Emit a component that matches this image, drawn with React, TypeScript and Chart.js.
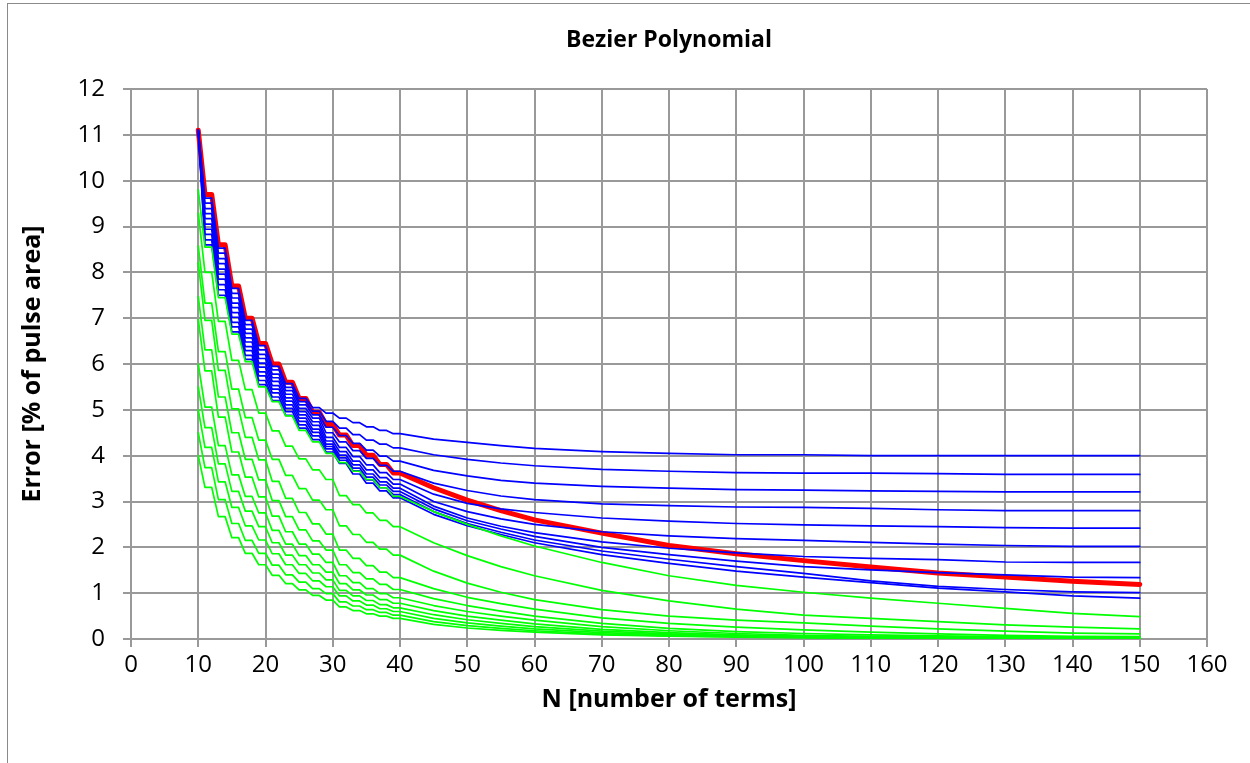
import React, { useEffect, useRef } from 'react';
import { Chart, registerables } from 'chart.js';

Chart.register(...registerables);

const FONT = '"Open Sans", "Noto Sans", sans-serif';

const TITLE = 'Bezier Polynomial';
const X_TITLE = 'N [number of terms]';
const Y_TITLE = 'Error [% of pulse area]';

// N values (number of terms) shared by all series
const N = [10, 11, 12, 13, 14, 15, 16, 17, 18, 19, 20, 21, 22, 23, 24, 25, 26, 27, 28, 29, 30,
  31, 32, 33, 34, 35, 36, 37, 38, 39, 40, 45, 50, 55, 60, 70, 80, 90, 100, 110, 120, 130, 140, 150];

const RED = [11.1, 9.7, 9.7, 8.6, 8.6, 7.7, 7.7, 7.0, 7.0, 6.45, 6.45, 6.0, 6.0, 5.6, 5.6, 5.25, 5.25, 4.95, 4.95, 4.68, 4.68,
  4.45, 4.45, 4.22, 4.22, 4.01, 4.01, 3.81, 3.81, 3.62, 3.62,
  3.3, 3.03, 2.8, 2.6, 2.31, 2.04, 1.86, 1.71, 1.57, 1.44, 1.35, 1.26, 1.19];

const BLUE_1 = [11.1, 9.62, 9.62, 8.53, 8.53, 7.65, 7.65, 6.95, 6.95, 6.4, 6.4, 5.95, 5.95, 5.57, 5.57, 5.25, 5.25, 5.05, 5.05, 4.93, 4.93,
  4.82, 4.82, 4.72, 4.72, 4.63, 4.63, 4.55, 4.55, 4.48, 4.48,
  4.36, 4.29, 4.22, 4.16, 4.09, 4.05, 4.02, 4.02, 4.0, 4.0, 4.0, 4.0, 4.0];
const BLUE_2 = [11.1, 9.51, 9.51, 8.42, 8.42, 7.54, 7.54, 6.86, 6.86, 6.31, 6.31, 5.87, 5.87, 5.49, 5.49, 5.18, 5.18, 4.97, 4.97, 4.75, 4.75,
  4.6, 4.6, 4.46, 4.46, 4.34, 4.34, 4.25, 4.25, 4.17, 4.17,
  4.02, 3.92, 3.84, 3.78, 3.7, 3.66, 3.63, 3.62, 3.62, 3.61, 3.59, 3.59, 3.59];
const BLUE_3 = [11.1, 9.39, 9.39, 8.3, 8.3, 7.44, 7.44, 6.76, 6.76, 6.21, 6.21, 5.78, 5.78, 5.42, 5.42, 5.11, 5.11, 4.89, 4.89, 4.62, 4.62,
  4.44, 4.44, 4.27, 4.27, 4.12, 4.12, 3.99, 3.99, 3.88, 3.88,
  3.68, 3.56, 3.46, 3.4, 3.33, 3.29, 3.26, 3.25, 3.23, 3.22, 3.21, 3.21, 3.21];
const BLUE_4 = [11.1, 9.28, 9.28, 8.19, 8.19, 7.33, 7.33, 6.67, 6.67, 6.12, 6.12, 5.7, 5.7, 5.34, 5.34, 5.03, 5.03, 4.82, 4.82, 4.5, 4.5,
  4.3, 4.3, 4.11, 4.11, 3.94, 3.94, 3.79, 3.79, 3.66, 3.66,
  3.4, 3.24, 3.12, 3.04, 2.95, 2.91, 2.88, 2.87, 2.85, 2.82, 2.8, 2.8, 2.8];
const BLUE_5 = [11.1, 9.17, 9.17, 8.07, 8.07, 7.23, 7.23, 6.57, 6.57, 6.02, 6.02, 5.62, 5.62, 5.26, 5.26, 4.96, 4.96, 4.74, 4.74, 4.4, 4.4,
  4.18, 4.18, 3.98, 3.98, 3.8, 3.8, 3.63, 3.63, 3.48, 3.48,
  3.16, 2.96, 2.84, 2.76, 2.64, 2.57, 2.52, 2.49, 2.47, 2.45, 2.43, 2.42, 2.42];
const BLUE_6 = [11.1, 9.05, 9.05, 7.96, 7.96, 7.12, 7.12, 6.48, 6.48, 5.93, 5.93, 5.53, 5.53, 5.19, 5.19, 4.89, 4.89, 4.66, 4.66, 4.32, 4.32,
  4.09, 4.09, 3.88, 3.88, 3.69, 3.69, 3.52, 3.52, 3.38, 3.38,
  3.0, 2.78, 2.62, 2.5, 2.34, 2.25, 2.19, 2.15, 2.11, 2.07, 2.04, 2.02, 2.02];
const BLUE_7 = [11.1, 8.94, 8.94, 7.85, 7.85, 7.02, 7.02, 6.38, 6.38, 5.83, 5.83, 5.45, 5.45, 5.11, 5.11, 4.82, 4.82, 4.58, 4.58, 4.25, 4.25,
  4.01, 4.01, 3.8, 3.8, 3.6, 3.6, 3.43, 3.43, 3.29, 3.29,
  2.9, 2.64, 2.46, 2.32, 2.12, 1.98, 1.88, 1.8, 1.76, 1.73, 1.68, 1.67, 1.67];
const BLUE_8 = [11.1, 8.83, 8.83, 7.73, 7.73, 6.91, 6.91, 6.29, 6.29, 5.74, 5.74, 5.37, 5.37, 5.03, 5.03, 4.75, 4.75, 4.51, 4.51, 4.2, 4.2,
  3.95, 3.95, 3.73, 3.73, 3.53, 3.53, 3.36, 3.36, 3.22, 3.22,
  2.84, 2.58, 2.4, 2.24, 2.0, 1.84, 1.7, 1.58, 1.51, 1.45, 1.4, 1.35, 1.34];
const BLUE_9 = [11.1, 8.71, 8.71, 7.62, 7.62, 6.81, 6.81, 6.19, 6.19, 5.64, 5.64, 5.28, 5.28, 4.96, 4.96, 4.67, 4.67, 4.43, 4.43, 4.15, 4.15,
  3.9, 3.9, 3.67, 3.67, 3.47, 3.47, 3.3, 3.3, 3.15, 3.15,
  2.78, 2.52, 2.33, 2.16, 1.92, 1.74, 1.58, 1.43, 1.27, 1.15, 1.08, 1.03, 1.01];
const BLUE_10 = [11.1, 8.6, 8.6, 7.5, 7.5, 6.7, 6.7, 6.1, 6.1, 5.55, 5.55, 5.2, 5.2, 4.88, 4.88, 4.6, 4.6, 4.35, 4.35, 4.08, 4.08,
  3.83, 3.83, 3.6, 3.6, 3.4, 3.4, 3.23, 3.23, 3.08, 3.08,
  2.72, 2.47, 2.28, 2.1, 1.84, 1.65, 1.48, 1.35, 1.23, 1.11, 1.03, 0.94, 0.89];

const GREEN_1 = [9.8, 8.55, 8.55, 7.45, 7.45, 6.65, 6.65, 6.05, 6.05, 5.5, 5.5, 5.18, 5.18, 4.87, 4.87, 4.55, 4.55, 4.3, 4.3, 4.05, 4.05,
  3.85, 3.85, 3.66, 3.66, 3.48, 3.48, 3.3, 3.3, 3.11, 3.11,
  2.78, 2.5, 2.25, 2.03, 1.67, 1.38, 1.17, 1.02, 0.89, 0.78, 0.67, 0.56, 0.49];
const GREEN_2 = [9.29, 8.0, 8.0, 6.93, 6.93, 6.08, 6.08, 5.44, 5.44, 4.93, 4.93, 4.54, 4.54, 4.21, 4.21, 3.93, 3.93, 3.69, 3.69, 3.48, 3.48,
  3.13, 3.13, 2.93, 2.93, 2.75, 2.75, 2.59, 2.59, 2.45, 2.45,
  2.1, 1.82, 1.58, 1.38, 1.06, 0.83, 0.65, 0.52, 0.45, 0.38, 0.31, 0.26, 0.22];
const GREEN_3 = [8.57, 7.33, 7.33, 6.27, 6.27, 5.45, 5.45, 4.83, 4.83, 4.34, 4.34, 3.92, 3.92, 3.57, 3.57, 3.28, 3.28, 3.03, 3.03, 2.82, 2.82,
  2.47, 2.47, 2.28, 2.28, 2.11, 2.11, 1.96, 1.96, 1.83, 1.83,
  1.48, 1.22, 1.02, 0.86, 0.64, 0.5, 0.41, 0.35, 0.28, 0.22, 0.17, 0.13, 0.11];
const GREEN_4 = [8.2, 6.95, 6.95, 5.86, 5.86, 5.02, 5.02, 4.4, 4.4, 3.91, 3.91, 3.44, 3.44, 3.07, 3.07, 2.76, 2.76, 2.51, 2.51, 2.29, 2.29,
  1.94, 1.94, 1.76, 1.76, 1.6, 1.6, 1.46, 1.46, 1.34, 1.34,
  1.1, 0.91, 0.77, 0.65, 0.46, 0.34, 0.26, 0.2, 0.15, 0.11, 0.08, 0.06, 0.05];
const GREEN_5 = [7.47, 6.31, 6.31, 5.28, 5.28, 4.5, 4.5, 3.92, 3.92, 3.47, 3.47, 3.02, 3.02, 2.67, 2.67, 2.38, 2.38, 2.14, 2.14, 1.94, 1.94,
  1.62, 1.62, 1.45, 1.45, 1.31, 1.31, 1.19, 1.19, 1.08, 1.08,
  0.88, 0.73, 0.61, 0.5, 0.34, 0.23, 0.16, 0.12, 0.09, 0.07, 0.05, 0.04, 0.03];
const GREEN_6 = [6.97, 5.85, 5.85, 4.84, 4.84, 4.08, 4.08, 3.53, 3.53, 3.1, 3.1, 2.68, 2.68, 2.34, 2.34, 2.07, 2.07, 1.85, 1.85, 1.67, 1.67,
  1.38, 1.38, 1.23, 1.23, 1.1, 1.1, 0.99, 0.99, 0.9, 0.9,
  0.73, 0.6, 0.5, 0.41, 0.27, 0.18, 0.12, 0.08, 0.06, 0.05, 0.04, 0.03, 0.02];
const GREEN_7 = [6.0, 5.06, 5.06, 4.22, 4.22, 3.58, 3.58, 3.11, 3.11, 2.75, 2.75, 2.37, 2.37, 2.07, 2.07, 1.82, 1.82, 1.62, 1.62, 1.46, 1.46,
  1.21, 1.21, 1.07, 1.07, 0.96, 0.96, 0.86, 0.86, 0.78, 0.78,
  0.62, 0.5, 0.41, 0.33, 0.21, 0.14, 0.09, 0.06, 0.05, 0.04, 0.03, 0.02, 0.02];
const GREEN_8 = [5.5, 4.61, 4.61, 3.82, 3.82, 3.22, 3.22, 2.79, 2.79, 2.45, 2.45, 2.1, 2.1, 1.83, 1.83, 1.62, 1.62, 1.44, 1.44, 1.29, 1.29,
  1.06, 1.06, 0.94, 0.94, 0.84, 0.84, 0.75, 0.75, 0.68, 0.68,
  0.53, 0.42, 0.34, 0.27, 0.17, 0.11, 0.07, 0.05, 0.04, 0.03, 0.02, 0.02, 0.01];
const GREEN_9 = [5.0, 4.18, 4.18, 3.43, 3.43, 2.87, 2.87, 2.47, 2.47, 2.16, 2.16, 1.86, 1.86, 1.62, 1.62, 1.43, 1.43, 1.27, 1.27, 1.14, 1.14,
  0.94, 0.94, 0.83, 0.83, 0.74, 0.74, 0.66, 0.66, 0.6, 0.6,
  0.45, 0.35, 0.28, 0.22, 0.14, 0.09, 0.06, 0.04, 0.03, 0.02, 0.02, 0.01, 0.01];
const GREEN_10 = [4.5, 3.74, 3.74, 3.04, 3.04, 2.52, 2.52, 2.15, 2.15, 1.87, 1.87, 1.61, 1.61, 1.4, 1.4, 1.24, 1.24, 1.1, 1.1, 0.99, 0.99,
  0.81, 0.81, 0.72, 0.72, 0.64, 0.64, 0.58, 0.58, 0.52, 0.52,
  0.38, 0.29, 0.23, 0.18, 0.11, 0.07, 0.05, 0.03, 0.02, 0.02, 0.01, 0.01, 0.01];
const GREEN_11 = [4.0, 3.31, 3.31, 2.67, 2.67, 2.21, 2.21, 1.87, 1.87, 1.62, 1.62, 1.39, 1.39, 1.21, 1.21, 1.07, 1.07, 0.95, 0.95, 0.85, 0.85,
  0.7, 0.7, 0.62, 0.62, 0.55, 0.55, 0.5, 0.5, 0.45, 0.45,
  0.32, 0.24, 0.19, 0.15, 0.09, 0.06, 0.04, 0.03, 0.02, 0.01, 0.01, 0.0, 0.0];

const BLUES = [BLUE_1, BLUE_2, BLUE_3, BLUE_4, BLUE_5, BLUE_6, BLUE_7, BLUE_8, BLUE_9, BLUE_10];
const GREENS = [GREEN_1, GREEN_2, GREEN_3, GREEN_4, GREEN_5, GREEN_6, GREEN_7, GREEN_8, GREEN_9, GREEN_10, GREEN_11];

export default function App() {
  const ref = useRef<HTMLCanvasElement | null>(null);

  useEffect(() => {
    if (!ref.current) return;
    const toPts = (vals: number[]) => vals.map((v, i) => ({ x: N[i], y: v }));
    const line = (vals: number[], color: string, width: number) => ({
      data: toPts(vals),
      borderColor: color,
      backgroundColor: color,
      borderWidth: width,
      pointRadius: 0,
      pointHoverRadius: 0,
      tension: 0,
      fill: false,
      borderCapStyle: 'round' as const,
      borderJoinStyle: 'round' as const,
    });
    const datasets: any[] = [
      ...GREENS.map((g) => line(g, '#00ff00', 1.7)),
      ...BLUES.map((b) => line(b, '#0000ff', 1.7)),
      line(RED, '#ff0000', 5),
    ];
    const gridColor = '#999999';
    const chart = new Chart(ref.current, {
      type: 'line',
      data: { datasets },
      options: {
        animation: false,
        responsive: false,
        maintainAspectRatio: false,
        layout: { padding: { left: 0, right: 43, top: 0, bottom: 0 } },
        plugins: {
          legend: { display: false },
          tooltip: { enabled: false },
          title: {
            display: true,
            text: TITLE,
            fullSize: false,
            color: '#000000',
            font: { family: FONT, size: 23, weight: 'bold' },
            padding: { top: 27, bottom: 34.4 },
          },
        },
        scales: {
          x: {
            type: 'linear',
            min: 0,
            max: 160,
            ticks: {
              stepSize: 10,
              autoSkip: false,
              maxRotation: 0,
              color: '#000000',
              padding: 4,
              font: { family: FONT, size: 24 },
            },
            grid: { color: gridColor, lineWidth: 2, tickLength: 8, drawTicks: true },
            border: { color: gridColor, width: 2 },
            title: {
              display: true,
              text: X_TITLE,
              color: '#000000',
              font: { family: FONT, size: 25, weight: 'bold' },
              padding: { top: 0, bottom: 48 },
            },
            afterFit: (s: any) => { s.height = 124; },
          },
          y: {
            type: 'linear',
            min: 0,
            max: 12,
            ticks: {
              stepSize: 1,
              autoSkip: false,
              color: '#000000',
              padding: 18,
              font: { family: FONT, size: 24 },
            },
            grid: { color: gridColor, lineWidth: 2, tickLength: 8, drawTicks: true },
            border: { color: gridColor, width: 2 },
            title: {
              display: true,
              text: Y_TITLE,
              color: '#000000',
              font: { family: FONT, size: 25, weight: 'bold' },
              padding: { top: 18, bottom: 0 },
            },
            afterFit: (s: any) => { s.width = 131; },
          },
        },
      },
    });
    return () => chart.destroy();
  }, []);

  return (
    <div style={{ position: 'fixed', left: 0, top: 0, width: 1250, height: 763, background: '#ffffff' }}>
      <div
        style={{
          position: 'fixed',
          left: 7,
          top: 3,
          width: 1300,
          height: 800,
          border: '1px solid #8a8a8a',
          boxSizing: 'border-box',
        }}
      />
      <canvas ref={ref} width={1250} height={763} style={{ position: 'absolute', left: 0, top: 0 }} />
    </div>
  );
}
